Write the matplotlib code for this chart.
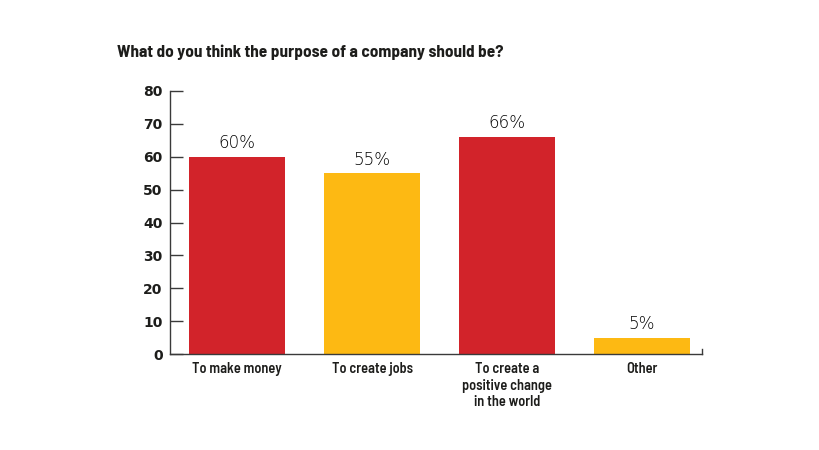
import matplotlib.pyplot as plt

categories = ['To make money', 'To create jobs', 'To create a\npositive change\nin the world', 'Other']
values = [60, 55, 66, 5]
bar_colors = ['#d2232a', '#fdb913', '#d2232a', '#fdb913']

TXT = '#1d1d1b'
AXC = '#3a3a3a'
COND = 'Barlow Semi Condensed'

fig = plt.figure(figsize=(8.2, 4.5), dpi=100)
ax = fig.add_axes([170 / 820, 1 - 354.3 / 450, (702 - 170) / 820, (354.3 - 90.7) / 450])

x = list(range(len(values)))
ax.bar(x, values, width=0.71, color=bar_colors, zorder=2)
ax.set_xlim(-0.498, 3.444)
ax.set_ylim(0, 80)

for xi, v in zip(x, values):
    ax.text(xi, v + 2.6, f'{v}%', ha='center', va='baseline', fontsize=12,
            family='DejaVu Sans', fontweight=200, color='#000000')

ax.spines['top'].set_visible(False)
ax.spines['right'].set_visible(False)
for s in ['left', 'bottom']:
    ax.spines[s].set_color(AXC)
    ax.spines[s].set_linewidth(1)
# small upturned end of the baseline
ax.plot([3.444, 3.444], [0, 1.6], color=AXC, lw=1, clip_on=False)

ax.set_yticks(range(0, 81, 10))
ax.tick_params(axis='y', direction='in', length=9, width=1, color=AXC,
               labelsize=10, pad=5.3)
for lab in ax.get_yticklabels():
    lab.set_fontweight('bold')
    lab.set_color(TXT)

ax.set_xticks(x)
ax.set_xticklabels(categories, family=COND, fontweight=600, fontsize=10.3,
                   color=TXT, linespacing=1.25, va='top')
ax.tick_params(axis='x', length=0, pad=5.5)

fig.text(117 / 820, 1 - 57.3 / 450, 'What do you think the purpose of a company should be?',
         family=COND, fontweight=700, fontsize=12.4, color=TXT,
         ha='left', va='baseline')

fig.savefig('out.png', dpi=100, facecolor='white')
